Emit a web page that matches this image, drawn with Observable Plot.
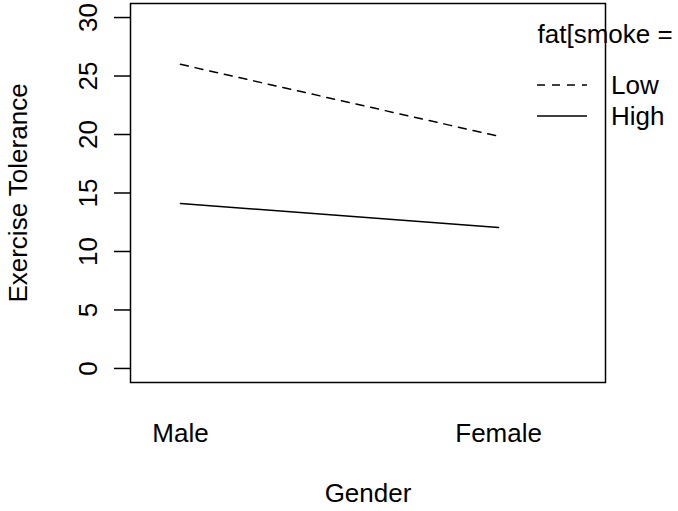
<!DOCTYPE html>
<html>
<head>
<meta charset="utf-8">
<script src="https://cdn.jsdelivr.net/npm/d3@7"></script>
<script src="https://cdn.jsdelivr.net/npm/@observablehq/plot@0.6"></script>
<style>
  html, body { margin: 0; padding: 0; background: #fff; }
  #chart svg { display: block; }
</style>
</head>
<body>
<div id="chart"></div>
<script>
const genders = ["Male", "Female"];
const smokeLevels = ["Low", "High"];
const lowValues = [26.0, 19.85];
const highValues = [14.1, 12.05];
const yTicks = [0, 5, 10, 15, 20, 25, 30];
const xTitle = "Gender";
const yTitle = "Exercise Tolerance";
const legendTitle = "fat[smoke =";

const rows = [];
genders.forEach((g, i) => {
  rows.push({gender: g, pos: i + 1, smoke: "Low", value: lowValues[i]});
  rows.push({gender: g, pos: i + 1, smoke: "High", value: highValues[i]});
});

const FONT = "'Liberation Sans', Arial, Helvetica, sans-serif";
const FS = 26;
const DASH = "8,7";
const M = {left: 130, right: 73, top: 3, bottom: 129};
const T = {fontSize: FS, fill: "#000", lineAnchor: "middle"};

const plot = Plot.plot({
  width: 678,
  height: 511,
  marginLeft: M.left,
  marginRight: M.right,
  marginTop: M.top,
  marginBottom: M.bottom,
  style: {fontFamily: FONT, fontSize: FS + "px", background: "#fff", color: "#000", overflow: "visible"},
  x: {type: "linear", domain: [1 - 0.157, 2 + 0.336], axis: null},
  y: {domain: [-1.2, 31.2], axis: null},
  marks: [
    Plot.frame({stroke: "#000", strokeWidth: 1.5}),
    Plot.axisY({ticks: yTicks, tickSize: 16, tickFormat: () => "", label: null, strokeWidth: 1.5, stroke: "#000"}),
    Plot.text(yTicks, {...T, y: d => d, text: d => String(d), frameAnchor: "left", dx: -42, rotate: -90, textAnchor: "middle"}),
    Plot.text(genders, {...T, x: (d, i) => i + 1, text: d => d, frameAnchor: "bottom", dy: 51, textAnchor: "middle"}),
    Plot.text([xTitle], {...T, text: d => d, frameAnchor: "bottom", dy: 111, textAnchor: "middle"}),
    Plot.text([yTitle], {...T, text: d => d, frameAnchor: "left", dx: -112, rotate: -90, textAnchor: "middle"}),
    Plot.line(rows.filter(r => r.smoke === "Low"), {x: "pos", y: "value", stroke: "#000", strokeWidth: 1.5, strokeDasharray: DASH}),
    Plot.line(rows.filter(r => r.smoke === "High"), {x: "pos", y: "value", stroke: "#000", strokeWidth: 1.5}),
    Plot.text([legendTitle], {...T, text: d => d, frameAnchor: "top-right", dx: -68, dy: 31, textAnchor: "start"})
  ]
});

// legend entries (samples + level labels)
const svg = d3.select(plot);
const frameRight = 678 - M.right, frameTop = M.top;
const legendYs = [frameTop + 82, frameTop + 113];
smokeLevels.forEach((lvl, i) => {
  svg.append("line")
    .attr("x1", frameRight - 68).attr("x2", frameRight - 18)
    .attr("y1", legendYs[i]).attr("y2", legendYs[i])
    .attr("stroke", "#000").attr("stroke-width", 1.5)
    .attr("stroke-dasharray", lvl === "Low" ? DASH : null);
  svg.append("text")
    .attr("x", frameRight + 6).attr("y", legendYs[i]).attr("dy", "0.35em")
    .attr("text-anchor", "start")
    .attr("font-family", FONT).attr("font-size", FS).attr("fill", "#000")
    .text(lvl);
});

document.getElementById("chart").appendChild(plot);
</script>
</body>
</html>
